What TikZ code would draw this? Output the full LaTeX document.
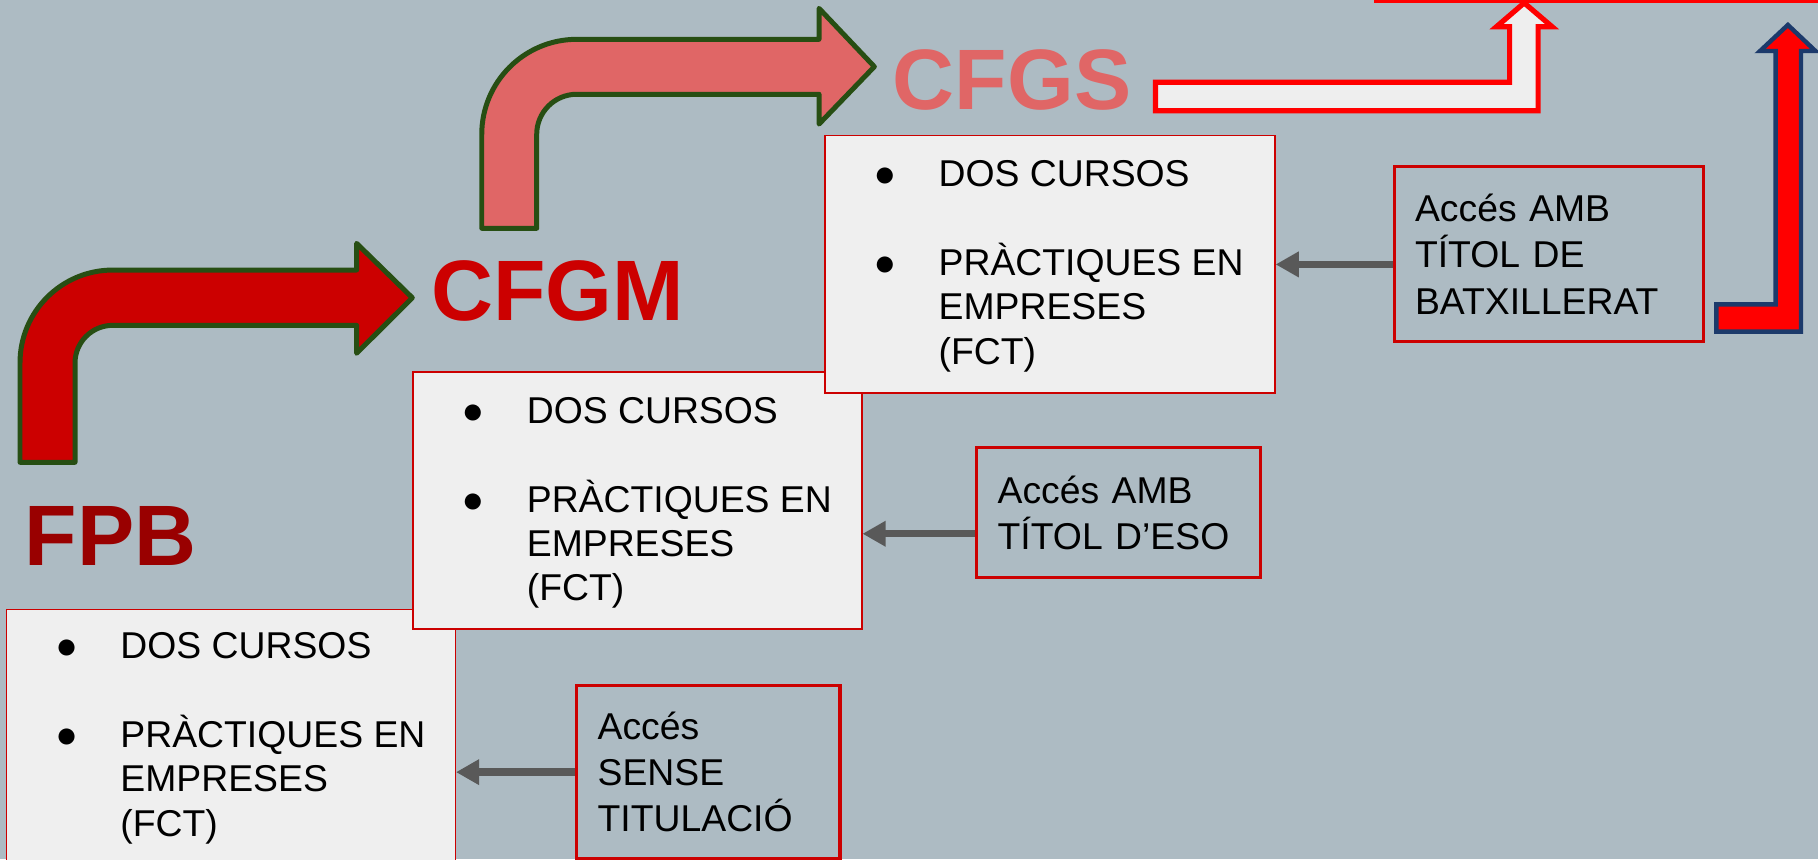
\documentclass[tikz,border=0pt]{standalone}
\usepackage{fontspec}
\setmainfont{Liberation Sans}
\usetikzlibrary{arrows.meta}
\definecolor{bg}{HTML}{ADBBC3}
\definecolor{dkgreen}{HTML}{274E13}
\definecolor{boxred}{HTML}{CC0000}
\definecolor{boxgray}{HTML}{EFEFEF}
\definecolor{conngray}{HTML}{595959}
\definecolor{fpbred}{HTML}{990000}
\definecolor{cfgmred}{HTML}{CC0000}
\definecolor{cfgsred}{HTML}{E06666}
\definecolor{pured}{HTML}{FF0000}
\definecolor{navy}{HTML}{1C3A6B}
\definecolor{whitefill}{HTML}{EEEEEE}
\newcommand{\listfont}{\fontsize{16.1pt}{19.15pt}\selectfont}
\newcommand{\accfont}{\fontsize{16.1pt}{19.9pt}\selectfont}
\newcommand{\titlefont}{\fontsize{37pt}{40pt}\selectfont\bfseries}
\newcommand{\bul}{\makebox[46.5pt]{●}}
\newcommand{\courselist}{\begin{tabular}[t]{@{}l@{}l@{}}
\bul & \smash{DOS CURSOS}\\[19.15pt]
\bul & \smash{PRÀCTIQUES EN}\\
 & \smash{EMPRESES}\\
 & \smash{(FCT)}
\end{tabular}}
\begin{document}
\begin{tikzpicture}[x=0.5pt,y=-0.5pt,
  bent/.style={draw=dkgreen, line width=2.15pt, line join=round},
  infobox/.style={draw=boxred, fill=boxgray, line width=0.65pt, anchor=north west, inner sep=0pt},
  courses/.style={anchor=base west, inner sep=0pt, font=\listfont},
  accbox/.style={draw=boxred, line width=1.45pt, anchor=north west, align=left, inner xsep=9pt, inner ysep=0pt, font=\accfont},
  conn/.style={draw=conngray, line width=3.2pt, -{Triangle[length=10pt,width=10.5pt]}},
  title/.style={anchor=base west, inner sep=0pt, font=\titlefont}]
\clip (0,0) rectangle (1568,741);
\fill[bg] (0,0) rectangle (1568,741);

% bent arrow FPB -> CFGM
\path[bent, fill=cfgmred] (17.25,398.7) -- (17.25,312.9)
  arc[start angle=180, end angle=270, radius=80] -- (307.6,232.9) -- (307.6,209.9)
  -- (355.6,256.8) -- (307.6,304.7) -- (307.6,280.6) -- (97.2,280.6)
  arc[start angle=270, end angle=180, radius=32.5] -- (64.7,398.7) -- cycle;

% bent arrow CFGM -> CFGS
\path[bent, fill=cfgsred] (415.5,196.9) -- (415.5,115.9)
  arc[start angle=180, end angle=270, radius=82] -- (706.4,33.9) -- (706.4,7.2)
  -- (754.1,57.5) -- (706.4,107) -- (706.4,81.3) -- (497.4,81.3)
  arc[start angle=270, end angle=180, radius=34.5] -- (462.9,196.9) -- cycle;

% partial box edge at the top right
\draw[pured, line width=1.4pt] (1186.6,-40) rectangle (1640,1.2);

% white L arrow (red outline)
\path[draw=pured, fill=whitefill, line width=2.25pt, line join=miter]
  (996.6,71) -- (1302,71) -- (1302,23) -- (1290.7,23) -- (1314.6,2.5)
  -- (1338.6,23) -- (1326.6,23) -- (1326.6,95.5) -- (996.6,95.5) -- cycle;

% red L arrow (navy outline)
\path[draw=navy, fill=pured, line width=1.9pt, line join=miter]
  (1480.3,262.5) -- (1531.4,262.5) -- (1531.4,44) -- (1518,44) -- (1542,21.5)
  -- (1565.8,44) -- (1553.3,44) -- (1553.3,286) -- (1480.3,286) -- cycle;

% course boxes
\node[infobox, minimum width=193.5pt, minimum height=122.5pt] (fpbbox) at (5,525) {};
\node[courses] (fpblist) at (10.5,568) {\courselist};
\node[infobox, minimum width=193.55pt, minimum height=110.9pt] (cfgmbox) at (355.5,320) {};
\node[courses] (cfgmlist) at (361,365) {\courselist};
\node[infobox, minimum width=194.1pt, minimum height=111pt] (cfgsbox) at (710.7,116.4) {};
\node[courses] (cfgslist) at (716.2,161) {\courselist};

% access boxes
\node[accbox, text width=115.35pt, minimum width=133.35pt, minimum height=75.5pt] (batxbox) at (1201,142.3) {Accés AMB\\TÍTOL DE\\BATXILLERAT};
\node[accbox, text width=104.3pt, minimum width=122.3pt, minimum height=56pt] (esobox) at (841,384.7) {Accés AMB\\TÍTOL D’ESO};
\node[accbox, text width=95.5pt, minimum width=113.5pt, minimum height=74.5pt] (sensebox) at (496,590) {Accés\\SENSE\\TITULACIÓ};

% connectors
\draw[conn] (batxbox.west |- cfgsbox.east) -- (cfgsbox.east);
\draw[conn] ([yshift=-9.1pt]esobox.west) -- ([yshift=-9.1pt]esobox.west -| cfgmbox.east);
\draw[conn] (sensebox.west) -- (sensebox.west -| fpbbox.east);

% titles
\node[title, text=fpbred] (fpb) at (21,487.3) {FPB};
\node[title, text=cfgmred] (cfgm) at (371.5,276) {CFGM};
\node[title, text=cfgsred] (cfgs) at (769.7,94.3) {CFGS};
\end{tikzpicture}
\end{document}
